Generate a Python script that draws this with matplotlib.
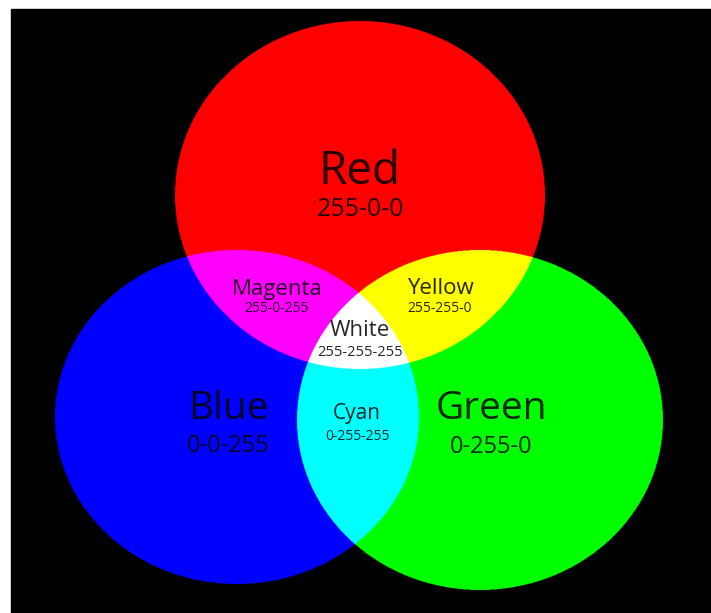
import numpy as np
import matplotlib.pyplot as plt

# circle data (pixel space of the picture)
names = ["Red", "Blue", "Green"]
rgb = [(1, 0, 0), (0, 0, 1), (0, 1, 0)]
cx = [360, 237, 480]
cy = [195, 417, 420]
rx = [185, 182, 183]
ry = [174, 167, 170]

# labels: name, code, x, y, name size, code size
labels = [
    ("Red", "255-0-0", 360, 172, 210, 33, 18),
    ("Magenta", "255-0-255", 277, 290, 309, 16, 10),
    ("Yellow", "255-255-0", 440, 289, 309, 16, 10),
    ("White", "255-255-255", 360, 331, 352, 16, 10.5),
    ("Blue", "0-0-255", 228, 409, 446, 28, 17),
    ("Cyan", "0-255-255", 357, 414, 436, 15, 10),
    ("Green", "0-255-0", 491, 409, 447, 28, 17),
]

W, H = 711, 613
fig = plt.figure(figsize=(W / 100, H / 100), dpi=100)
ax = fig.add_axes([0, 0, 1, 1])
ax.set_xlim(0, W)
ax.set_ylim(H, 0)
ax.axis("off")
fig.patch.set_facecolor("white")

# black panel
ax.add_patch(plt.Rectangle((11, 9), W - 11, H - 9, color="black", zorder=0))

# additive colour mixing on a fine grid
s = 2
xs = np.arange(11, W, 1 / s) + 0.25
ys = np.arange(9, H, 1 / s) + 0.25
X, Y = np.meshgrid(xs, ys)
img = np.zeros(X.shape + (3,))
for c, x0, y0, a, b in zip(rgb, cx, cy, rx, ry):
    inside = ((X - x0) / a) ** 2 + ((Y - y0) / b) ** 2 <= 1
    img[inside] += np.array(c)
img = np.clip(img, 0, 1)
ax.imshow(img, extent=(11, W, H, 9), interpolation="antialiased", zorder=1)
ax.set_xlim(0, W)
ax.set_ylim(H, 0)

for name, code, x, y1, y2, fs1, fs2 in labels:
    ax.text(x, y1, name, ha="center", va="center", fontsize=fs1,
            family="Open Sans", color="black", alpha=0.85, zorder=3)
    ax.text(x, y2, code, ha="center", va="center", fontsize=fs2,
            family="Open Sans", color="black", alpha=0.85, zorder=3)

fig.savefig("out.png", dpi=100)
